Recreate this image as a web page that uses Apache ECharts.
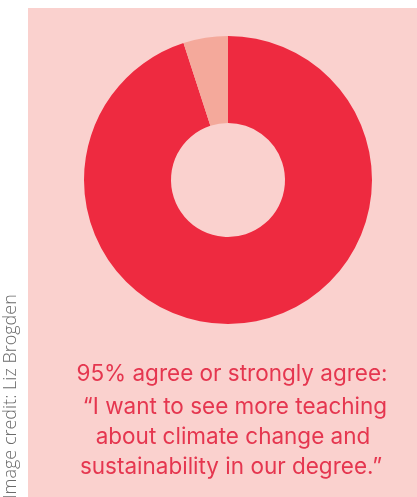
<!DOCTYPE html>
<html>
<head>
<meta charset="utf-8">
<script src="https://cdn.jsdelivr.net/npm/echarts@6/dist/echarts.min.js"></script>
<style>
html,body{margin:0;padding:0;background:#ffffff;}
#chart{width:417px;height:497px;}
</style>
</head>
<body>
<div id="chart"></div>
<script>
const categories = ['Agree or strongly agree', 'Other'];
const values = [95, 5];
const sliceColors = ['#ee2a40', '#f4a99b'];
const captionLines = [
  '95% agree or strongly agree:',
  '\u201CI want to see more teaching',
  'about climate change and',
  'sustainability in our degree.\u201D'
];
const creditText = 'Image credit: Liz Brogden';

const chart = echarts.init(document.getElementById('chart'), null, {renderer: 'canvas'});
const lineY = [374, 407, 437, 467];
const lineX = [232, 235, 233, 231];
const graphics = [
  {type: 'rect', z: -10, shape: {x: 28, y: 8, width: 389, height: 489}, style: {fill: '#fad1ce'}},
  {type: 'text', x: 11, y: 499, rotation: Math.PI / 2,
   style: {text: creditText, fill: '#6b6b6b', font: '300 18px "Open Sans"', align: 'left', verticalAlign: 'middle'}}
];
captionLines.forEach((t, i) => {
  graphics.push({type: 'text', x: lineX[i], y: lineY[i],
    style: {text: t, fill: '#e5364f', font: '22.5px Inter', align: 'center', verticalAlign: 'middle'}});
});
chart.setOption({
  animation: false,
  backgroundColor: '#ffffff',
  graphic: graphics,
  series: [{
    type: 'pie',
    center: [228, 180],
    radius: [57, 144],
    startAngle: 90,
    clockwise: true,
    label: {show: false},
    labelLine: {show: false},
    emphasis: {disabled: true},
    itemStyle: {borderWidth: 0},
    data: categories.map((c, i) => ({name: c, value: values[i], itemStyle: {color: sliceColors[i]}}))
  }]
});
</script>
</body>
</html>
